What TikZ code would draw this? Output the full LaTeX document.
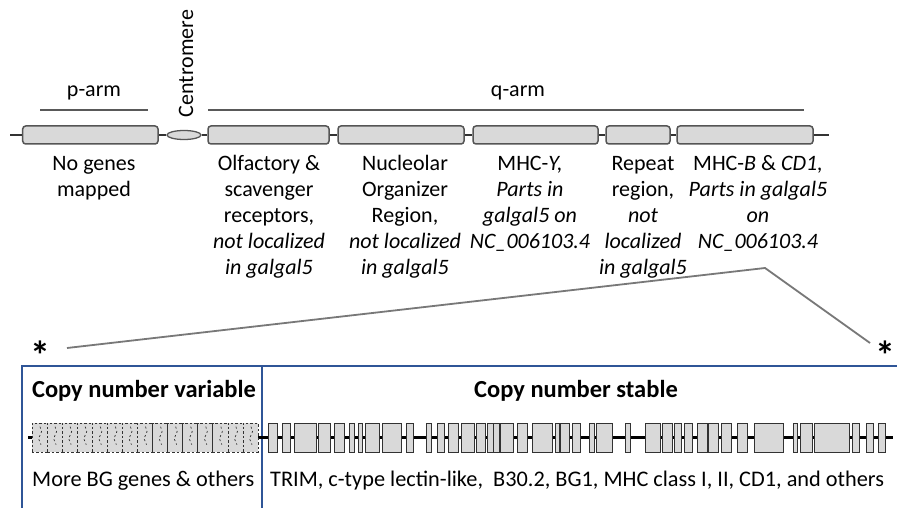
\documentclass[tikz,border=0pt]{standalone}
\usepackage{fontspec}
\setmainfont{Carlito}
\usetikzlibrary{shapes.geometric}
\definecolor{boxgray}{RGB}{217,217,217}
\definecolor{chrline}{RGB}{85,85,85}
\definecolor{geneline}{RGB}{50,50,50}
\definecolor{framecol}{RGB}{47,85,151}
\definecolor{conncol}{RGB}{120,120,120}
\newcommand\fstrut{\rule{0pt}{16pt}}
\begin{document}
\begin{tikzpicture}[x=1pt,y=-1pt,
  chr/.style={draw=chrline, fill=boxgray, rounded corners=3pt, line width=1.5pt, minimum height=18pt, inner sep=0pt},
  cent/.style={ellipse, draw=chrline, fill=boxgray, line width=1.3pt, minimum width=34pt, minimum height=9pt, inner sep=0pt},
  stub/.style={draw=black!80, line width=1.5pt},
  armline/.style={draw=black!65, line width=1.4pt},
  gene/.style={draw=geneline, fill=boxgray, line width=0.8pt, minimum height=29pt, inner sep=0pt},
  dgene/.style={draw=geneline, fill=boxgray, dash pattern=on 2.5pt off 2pt, line width=0.7pt, minimum height=29pt, minimum width=15.07pt, inner sep=0pt},
  squig/.style={draw=geneline, dash pattern=on 2pt off 2.5pt, line width=0.7pt},
  dna/.style={draw=black, line width=3pt},
  lbl/.style={font=\fontsize{22}{26}\selectfont, align=center, anchor=north, inner sep=0pt},
  one/.style={font=\fontsize{22}{26}\selectfont, inner sep=0pt},
  low/.style={font=\fontsize{22.3}{26}\selectfont, inner sep=0pt, anchor=base west},
  ttl/.style={font=\bfseries\fontsize{24.5}{28}\selectfont, inner sep=0pt, anchor=base},
  conn/.style={draw=conncol, line width=1.8pt},
  frame/.style={draw=framecol, line width=1.6pt},
  star/.style={font=\bfseries\fontsize{40}{40}\selectfont, inner sep=0pt}]
\useasboundingbox (0,0) rectangle (897,508);
\fill[white] (0,0) rectangle (897,508);

% arm labels
\draw[armline] (40,110) coordinate (pa1) -- (148,110) coordinate (pa2);
\draw[armline] (208,110) coordinate (qa1) -- (804,110) coordinate (qa2);
\node[one, anchor=base] (parm) at (94,97) {p-arm};
\node[one, anchor=base] (qarm) at (518,97) {q-arm};
\node[one, rotate=90, anchor=base] (centro) at (193,63.5) {Centromere};

% chromosome
\coordinate (lend) at (10,135);
\coordinate (rend) at (829,135);
\node[chr, minimum width=135.3pt] (c1) at (90.35,135) {};
\node[cent] (cen) at (184,135) {};
\node[chr, minimum width=121pt] (c2) at (268.5,135) {};
\node[chr, minimum width=126pt] (c3) at (401,135) {};
\node[chr, minimum width=125pt] (c4) at (535.5,135) {};
\node[chr, minimum width=64pt] (c5) at (638,135) {};
\node[chr, minimum width=136pt] (c6) at (745,135) {};
\draw[stub] (lend) -- (c1.west);
\draw[stub] (c1.east) -- (cen.west);
\draw[stub] (cen.east) -- (c2.west);
\draw[stub] (c2.east) -- (c3.west);
\draw[stub] (c3.east) -- (c4.west);
\draw[stub] (c4.east) -- (c5.west);
\draw[stub] (c5.east) -- (c6.west);
\draw[stub] (c6.east) -- (rend);

% region labels
\node[lbl] (t1) at (94,154) {\fstrut No genes\\mapped};
\node[lbl] (t2) at (269,154) {\fstrut Olfactory \&\\scavenger\\receptors,\\\textit{not localized}\\\textit{in galgal5}};
\node[lbl] (t3) at (405,154) {\fstrut Nucleolar\\Organizer\\Region,\\\textit{not localized}\\\textit{in galgal5}};
\node[lbl] (t4) at (530,154) {\fstrut MHC-\textit{Y,}\\\textit{Parts in}\\\textit{galgal5 on}\\\textit{NC\_006103.4}};
\node[lbl] (t5) at (643,154) {\fstrut Repeat\\region,\\\textit{not}\\\textit{localized}\\\textit{in galgal5}};
\node[lbl] (t6) at (758,154) {\fstrut MHC-\textit{B} \& \textit{CD1,}\\\textit{Parts in galgal5}\\\textit{on}\\\textit{NC\_006103.4}};

% zoom connector
\coordinate (la) at (67,348);
\coordinate (apex) at (765,268);
\coordinate (ra) at (870,343);
\draw[conn] (la) -- (apex) -- (ra);
\node[star] (astL) at (40,355) {*};
\node[star] (astR) at (885,355) {*};

% frame
\coordinate (f1) at (22,508);
\coordinate (f2) at (22,366);
\coordinate (f3) at (897,366);
\coordinate (d1) at (262,366);
\coordinate (d2) at (262,508);
\draw[frame] (f1) -- (f2) -- (f3);
\draw[frame] (d1) -- (d2);

\node[ttl] (cnv) at (144,397) {Copy number variable};
\node[ttl] (cns) at (576,397) {Copy number stable};

% gene row
\coordinate (g0) at (28,437.5);
\coordinate (gE) at (893,437.5);
\draw[dna] (g0) -- (gE);
\foreach \i in {0,...,14}{
  \node[dgene] (dg\i) at ({39.53+15.07*\i},437.5) {};
  \draw[squig] ([xshift=0.5pt,yshift=-4pt]dg\i.north) -- ++(1.5,5) -- ++(-3,7) -- ++(2.5,6);
}
\foreach \a/\b in {268/277,282/290,294/316,318/330,334/344,349/354,358/362,365/379,382/401,406/413,426/431,437/444,448/458,461/474,476/485,487/493,493/499,500/513,517/527,532/552,555/559,560/569,572/580,589/594,596/612,625/630,645/660,662/672,674/681,684/692,697/707,708/718,721/731,737/747,754/783,793/797,800/812,814/849,852/859,866/873,878/885}{
  \node[gene, minimum width={(\b-\a)*1pt}] (gn\a) at ({(\a+\b)/2},437.5) {};
}

\node[low] (more) at (32,486) {More BG genes \& others};
\node[low] (trim) at (270,486) {TRIM, c-type lectin-like,\ \ B30.2, BG1, MHC class I, II, CD1, and others};
\end{tikzpicture}
\end{document}
